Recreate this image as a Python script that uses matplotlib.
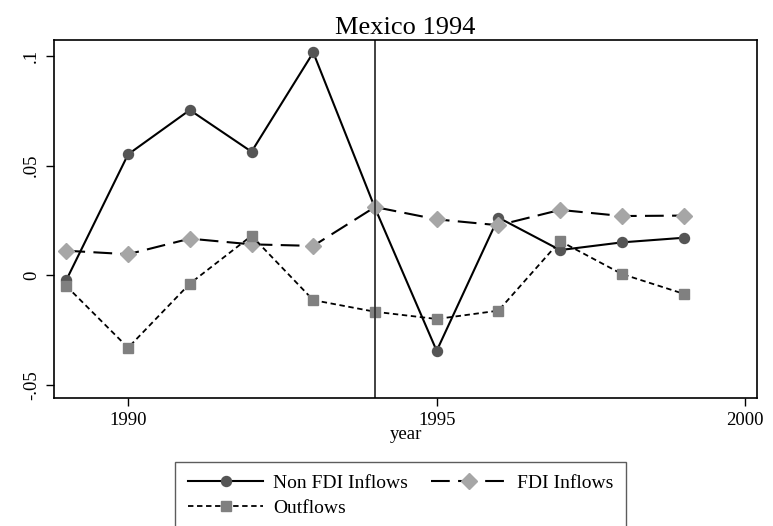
import matplotlib
matplotlib.use("Agg")
from matplotlib import pyplot as plt

plt.rcParams['font.family'] = ['Liberation Serif', 'DejaVu Serif']

# data
years = [1989, 1990, 1991, 1992, 1993, 1994, 1995, 1996, 1997, 1998, 1999]
non_fdi = [-0.0021, 0.0551, 0.0753, 0.0563, 0.1015, 0.0307, -0.0344, 0.0263, 0.0115, 0.0150, 0.0171]
fdi = [0.0112, 0.0096, 0.0167, 0.0141, 0.0134, 0.0311, 0.0255, 0.0228, 0.0298, 0.0270, 0.0272]
outflows = [-0.0049, -0.0330, -0.0038, 0.0180, -0.0113, -0.0166, -0.0199, -0.0161, 0.0156, 0.0006, -0.0084]

x_ticks = [1990, 1995, 2000]
y_ticks = [-0.05, 0, 0.05, 0.1]
y_tick_labels = ["-.05", "0", ".05", ".1"]
crisis_year = 1994

fig = plt.figure(figsize=(7.73, 5.26), dpi=100)
ax = fig.add_axes([0.0699, 0.2433, 0.9094, 0.6807])

l1, = ax.plot(years, non_fdi, color="black", lw=1.5, marker="o", markersize=7.2,
              markerfacecolor="#555555", markeredgecolor="#555555", label="Non FDI Inflows")
l2, = ax.plot(years, fdi, color="black", lw=1.5, dashes=(9, 4), marker="D", markersize=8,
              markerfacecolor="#a6a6a6", markeredgecolor="#a6a6a6", label="FDI Inflows")
l3, = ax.plot(years, outflows, color="black", lw=1.3, dashes=(3, 2), marker="s", markersize=7,
              markerfacecolor="#808080", markeredgecolor="#808080", label="Outflows")

ax.axvline(crisis_year, color="#333333", lw=1.3)

ax.set_xlim(1988.8, 2000.19)
ax.set_ylim(-0.0559, 0.1072)
ax.set_xticks(x_ticks)
ax.set_yticks(y_ticks)
ax.set_yticklabels(y_tick_labels, rotation=90, va="center")
ax.tick_params(labelsize=13.5, length=6, width=1, direction="out", pad=4)
ax.set_xlabel("year", fontsize=13.5, labelpad=-2)
ax.set_title("Mexico 1994", fontsize=19, pad=4)

for s in ax.spines.values():
    s.set_linewidth(1.2)

# matplotlib fills legend columns first, so order gives rows: Non FDI | FDI, Outflows
leg = fig.legend([l1, l3, l2], ["Non FDI Inflows", "Outflows", "FDI Inflows"],
                 loc="upper left", bbox_to_anchor=(175 / 773, 1 - 462 / 526),
                 ncol=2, fontsize=14, frameon=True, fancybox=False, numpoints=1,
                 handlelength=3.9, handletextpad=0.5, columnspacing=1.2,
                 borderpad=0.65, labelspacing=0.35, borderaxespad=0)
leg.get_frame().set_edgecolor("#333333")
leg.get_frame().set_linewidth(1.0)

fig.savefig("out.png", dpi=100)
